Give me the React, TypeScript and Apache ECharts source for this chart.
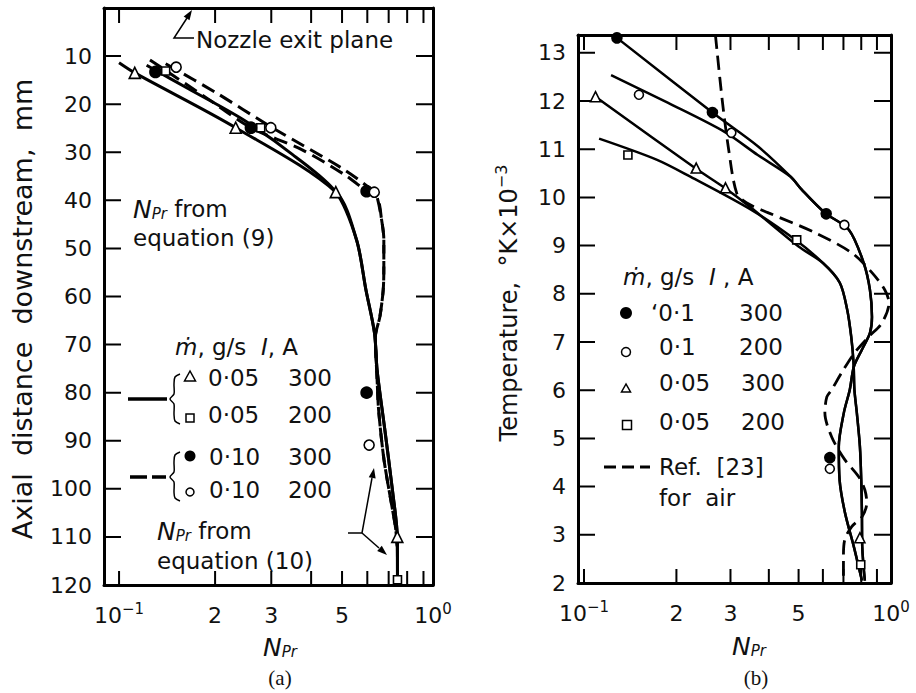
import React, { useEffect, useRef } from 'react';
import * as echarts from 'echarts';

// ---------- Panel (a): axial distance downstream (mm) vs N_Pr ----------
const aTriX = [0.112, 0.232, 0.478, 0.745];
const aTriY = [13.5, 24.9, 38.3, 110];
const aSqX = [0.14, 0.278, 0.746];
const aSqY = [13.1, 24.9, 118.9];
const aFillX = [0.13, 0.259, 0.597, 0.597];
const aFillY = [13.3, 24.9, 38.1, 80.0];
const aOpenX = [0.151, 0.299, 0.631, 0.608];
const aOpenY = [12.3, 24.9, 38.3, 90.9];

const aSolid300X = [0.1, 0.112, 0.232, 0.478, 0.555, 0.594, 0.632, 0.644, 0.679, 0.721, 0.745, 0.746];
const aSolid300Y = [11.4, 13.5, 24.9, 38.3, 48.2, 58.6, 67.6, 75.3, 87.1, 100.8, 110, 119.6];
const aSolid200X = [0.122, 0.165, 0.246, 0.35, 0.478, 0.555, 0.594, 0.632, 0.644, 0.679, 0.721, 0.745, 0.746];
const aSolid200Y = [11.9, 16.8, 23.3, 30.5, 38.3, 48.2, 58.6, 67.6, 75.3, 87.1, 100.8, 110, 119.6];
const aDash300X = [0.125, 0.19, 0.259, 0.375, 0.51, 0.597, 0.645, 0.665, 0.676, 0.676, 0.673, 0.657, 0.636, 0.644, 0.651, 0.677, 0.72, 0.735, 0.745];
const aDash300Y = [10.8, 18.9, 24.9, 29.5, 34.7, 38.1, 39.5, 44, 48.2, 54, 58.6, 64.2, 68.4, 77.3, 83.6, 94, 104.4, 107.9, 112];
const aDash200X = [0.14, 0.2, 0.299, 0.51, 0.631, 0.645, 0.665, 0.676, 0.676, 0.673, 0.657, 0.636, 0.644, 0.651, 0.677, 0.72, 0.735, 0.745];
const aDash200Y = [11.6, 17.5, 24.7, 33.7, 38.3, 39.5, 44, 48.2, 54, 58.6, 64.2, 68.4, 77.3, 83.6, 94, 104.4, 107.9, 112];

const aYTicks = [10, 20, 30, 40, 50, 60, 70, 80, 90, 100, 110, 120];

// ---------- Panel (b): temperature (K x 10^-3) vs N_Pr ----------
const bFillX = [0.128, 0.262, 0.615, 0.632];
const bFillY = [13.31, 11.76, 9.66, 4.6];
const bOpenX = [0.151, 0.302, 0.705, 0.632];
const bOpenY = [12.13, 11.34, 9.43, 4.37];
const bTriX = [0.109, 0.232, 0.289, 0.792];
const bTriY = [12.09, 10.61, 10.2, 2.94];
const bSqX = [0.139, 0.493, 0.797];
const bSqY = [10.88, 9.12, 2.38];

const bLine300X = [0.128, 0.262, 0.37, 0.471, 0.512, 0.609, 0.729, 0.815, 0.854, 0.867, 0.854, 0.804, 0.757, 0.734, 0.702, 0.676, 0.68, 0.708, 0.757, 0.804];
const bLine300Y = [13.31, 11.76, 11.05, 10.43, 10.16, 9.68, 9.33, 8.64, 8.08, 7.52, 7.19, 6.84, 6.49, 6.01, 5.53, 4.83, 4.14, 3.46, 2.75, 2.05];
const bLine200X = [0.1225, 0.188, 0.287, 0.368, 0.471, 0.512, 0.609, 0.729, 0.815, 0.854, 0.867, 0.854, 0.804, 0.757, 0.734, 0.702, 0.676, 0.68, 0.708, 0.757, 0.804];
const bLine200Y = [12.54, 11.96, 11.36, 10.88, 10.43, 10.16, 9.68, 9.33, 8.64, 8.08, 7.52, 7.19, 6.84, 6.49, 6.01, 5.53, 4.83, 4.14, 3.46, 2.75, 2.05];
const bLine05_300X = [0.109, 0.23, 0.287, 0.351, 0.5, 0.6, 0.681, 0.72, 0.742, 0.755, 0.76, 0.774, 0.792, 0.8, 0.804, 0.806, 0.822];
const bLine05_300Y = [12.09, 10.61, 10.2, 9.78, 8.98, 8.64, 8.23, 7.67, 7.11, 6.57, 6.01, 5.53, 4.83, 4.14, 3.46, 2.75, 2.05];
const bLine05_200X = [0.112, 0.173, 0.222, 0.351, 0.488, 0.6, 0.681, 0.72, 0.742, 0.755, 0.76, 0.774, 0.792, 0.8, 0.804, 0.806, 0.822];
const bLine05_200Y = [11.22, 10.78, 10.43, 9.74, 9.12, 8.64, 8.23, 7.67, 7.11, 6.57, 6.01, 5.53, 4.83, 4.14, 3.46, 2.75, 2.05];
const bRefAirX = [0.268, 0.282, 0.296, 0.314, 0.338, 0.399, 0.565, 0.745, 0.867, 0.955, 0.985, 0.935, 0.847, 0.762, 0.69, 0.641, 0.618, 0.609, 0.641, 0.707, 0.786, 0.822, 0.834, 0.804, 0.745, 0.707, 0.7, 0.7];
const bRefAirY = [13.37, 12.02, 10.99, 10.1, 9.89, 9.68, 9.27, 8.85, 8.44, 8.08, 7.81, 7.4, 7.11, 6.78, 6.36, 6.01, 5.86, 5.53, 5.03, 4.56, 4.2, 3.93, 3.66, 3.37, 3.17, 2.9, 2.54, 2.05];

const bYTicks = [2, 3, 4, 5, 6, 7, 8, 9, 10, 11, 12, 13];

// shared log-axis ticks
const xMinorTicks = [0.1, 0.2, 0.3, 0.4, 0.5, 0.6, 0.7, 0.8, 0.9, 1.0];
const xLabelTicks = [0.1, 0.2, 0.3, 0.5];

const FONT = 'DejaVu Sans';
const INK = '#111';
const L = (v: number) => Math.log10(v);
const pts = (xs: number[], ys: number[]) => xs.map((x, i) => [L(x), ys[i]]);

const A_XMIN = L(0.0897);
const A_XMAX = L(0.964);
const A_YMIN = 0, A_YMAX = 120;
const B_XMIN = L(0.0956);
const B_XMAX = 0;
const B_YMIN = 2, B_YMAX = 13.37;

// grid boxes in pixels
const GRID_A = { left: 104, right: 483, top: 8, bottom: 108 };
const GRID_B = { left: 578, right: 25, top: 35, bottom: 110 };
const W = 916, H = 693;

const supRich = {
  b: { fontSize: 22, fontFamily: FONT, color: INK, lineHeight: 28 },
  s: { fontSize: 15, fontFamily: FONT, color: INK, verticalAlign: 'top', lineHeight: 28, padding: [0, 0, 10, 0] },
};

function xAxes(gridIndex: number, min: number, max: number) {
  const labelVals = [...xLabelTicks.map(L), max];
  const line = { show: true, onZero: false, lineStyle: { color: '#000', width: 3 } };
  return [
    {
      type: 'value', gridIndex, min, max, position: 'bottom',
      axisLine: line, axisTick: { show: false }, splitLine: { show: false },
      axisLabel: {
        show: true, customValues: labelVals, margin: 16, color: INK, fontFamily: FONT, fontSize: 22,
        rich: supRich,
        formatter: (v: number) => {
          if (Math.abs(v + 1) < 1e-6) return '{b|10}{s|−1}';
          if (v > -0.05) return '{b|10}{s|0}';
          return '{b|' + Math.round(Math.pow(10, v) * 10) + '}';
        },
      },
    },
    {
      type: 'value', gridIndex, min, max, position: 'top',
      axisLine: line, axisTick: { show: false }, splitLine: { show: false }, axisLabel: { show: false },
    },
  ];
}

function yAxes(gridIndex: number, min: number, max: number, ticks: number[], inverse: boolean) {
  const line = { show: true, onZero: false, lineStyle: { color: '#000', width: 3 } };
  return [
    {
      type: 'value', gridIndex, min, max, inverse, position: 'left',
      axisLine: line, axisTick: { show: false }, splitLine: { show: false },
      axisLabel: { show: true, customValues: ticks, margin: 12, color: INK, fontFamily: FONT, fontSize: 22 },
    },
    {
      type: 'value', gridIndex, min, max, inverse, position: 'right',
      axisLine: line, axisTick: { show: false }, splitLine: { show: false }, axisLabel: { show: false },
    },
  ];
}

// inward tick marks on all four sides, drawn as line segments through the axes' scales
function tickSeries(xi: number, grid: any, xmin: number, xmax: number, ymin: number, ymax: number, yTicks: number[], yInverse: boolean) {
  const pw = W - grid.left - grid.right;
  const ph = H - grid.top - grid.bottom;
  const dxPer = (xmax - xmin) / pw;
  const dyPer = (ymax - ymin) / ph;
  const yBot = yInverse ? ymax : ymin;
  const yTop = yInverse ? ymin : ymax;
  const sgn = yInverse ? -1 : 1; // moving up on screen
  const data: any[] = [];
  xMinorTicks.map(L).filter((v) => v >= xmin - 1e-9 && v <= xmax + 1e-9).forEach((v) => {
    data.push([v, yBot], [v, yBot + sgn * 14 * dyPer], '-');
    data.push([v, yTop], [v, yTop - sgn * 15 * dyPer], '-');
  });
  yTicks.forEach((t) => {
    data.push([xmin, t], [xmin + 17 * dxPer, t], '-');
    data.push([xmax, t], [xmax - 17 * dxPer, t], '-');
  });
  return {
    type: 'line', xAxisIndex: xi, yAxisIndex: xi, data, smooth: false, symbol: 'none', showSymbol: false,
    connectNulls: false, clip: false, silent: true, z: 3,
    lineStyle: { color: '#000', width: 2, type: 'solid', cap: 'butt' },
  };
}

function lineSeries(name: string, xi: number, data: number[][], dashed: boolean, width: number) {
  return {
    name, type: 'line', xAxisIndex: xi, yAxisIndex: xi, data, smooth: 0.3, symbol: 'none', showSymbol: false,
    lineStyle: { color: '#000', width, type: dashed ? [14, 7] : 'solid', cap: 'butt', opacity: 1 },
    z: 2, silent: true,
  };
}

function scatterSeries(name: string, xi: number, data: number[][], symbol: string, size: number, filled: boolean) {
  return {
    name, type: 'scatter', xAxisIndex: xi, yAxisIndex: xi, data, symbol, symbolSize: size,
    itemStyle: { color: filled ? '#000' : '#fff', borderColor: '#000', borderWidth: 1.6, opacity: 1 },
    z: 5, silent: true,
  };
}

const txt = (x: number, y: number, text: string, extra: any = {}) => ({
  type: 'text', x, y, silent: true,
  style: { text, fontFamily: FONT, fontSize: 23, fill: INK, align: 'left', verticalAlign: 'middle', ...extra },
});

const nprRich = {
  n: { fontSize: 25, fontStyle: 'italic', fontFamily: FONT, color: INK, lineHeight: 24 },
  s: { fontSize: 15, fontStyle: 'italic', fontFamily: FONT, color: INK, lineHeight: 24, verticalAlign: 'bottom', padding: [8, 0, 0, 0] },
  t: { fontSize: 23, fontFamily: FONT, color: INK, lineHeight: 24 },
};
const mdotRich = {
  i: { fontSize: 23, fontStyle: 'italic', fontFamily: FONT, color: INK },
  t: { fontSize: 23, fontFamily: FONT, color: INK },
};

function arrowHead(tx: number, ty: number, fx: number, fy: number) {
  const dx = tx - fx, dy = ty - fy;
  const len = Math.sqrt(dx * dx + dy * dy);
  const ux = dx / len, uy = dy / len;
  const bx = tx - 10 * ux, by = ty - 10 * uy;
  const px = -uy * 3.5, py = ux * 3.5;
  return {
    type: 'polygon', silent: true,
    shape: { points: [[tx, ty], [bx + px, by + py], [bx - px, by - py]] },
    style: { fill: '#000' },
  };
}

const stroke = { stroke: '#000', lineWidth: 1.5, fill: 'none' };

const graphics: any[] = [
  // ---- panel (a) annotations ----
  txt(196, 40, 'Nozzle exit plane'),
  { type: 'polyline', silent: true, shape: { points: [[194, 38], [174, 38], [187, 18]] }, style: stroke },
  arrowHead(192, 10, 174, 38),
  txt(133, 209, '{n|N}{s|Pr}{t| from}', { rich: nprRich }),
  txt(133, 238, 'equation (9)'),
  txt(175, 347, '{i|ṁ}{t|, g/s  }{i|I}{t|, A}', { rich: mdotRich }),
  { type: 'polygon', silent: true, shape: { points: [[190, 371], [184.5, 381], [195.5, 381]] }, style: { fill: '#fff', stroke: '#000', lineWidth: 1.5 } },
  txt(208, 378, '0·05'), txt(288, 378, '300'),
  { type: 'rect', silent: true, shape: { x: 186, y: 414, width: 8, height: 8 }, style: { fill: '#fff', stroke: '#000', lineWidth: 1.5 } },
  txt(208, 415, '0·05'), txt(288, 415, '200'),
  { type: 'circle', silent: true, shape: { cx: 190, cy: 456, r: 5.5 }, style: { fill: '#000' } },
  txt(209, 457, '0·10'), txt(288, 457, '300'),
  { type: 'circle', silent: true, shape: { cx: 190, cy: 492, r: 4 }, style: { fill: '#fff', stroke: '#000', lineWidth: 1.5 } },
  txt(209, 490, '0·10'), txt(288, 490, '200'),
  { type: 'polyline', silent: true, shape: { smooth: 0.3, points: [[180, 374], [175, 377], [174, 384], [174, 394], [170, 399], [174, 404], [174, 414], [175, 421], [180, 424]] }, style: stroke },
  { type: 'polyline', silent: true, shape: { smooth: 0.3, points: [[180, 452], [175, 455], [174, 462], [174, 472], [170, 477], [174, 482], [174, 492], [175, 498], [180, 501]] }, style: stroke },
  { type: 'line', silent: true, shape: { x1: 128, y1: 399, x2: 167, y2: 399 }, style: { stroke: '#000', lineWidth: 3.5 } },
  { type: 'line', silent: true, shape: { x1: 130, y1: 477, x2: 166, y2: 477 }, style: { stroke: '#000', lineWidth: 3.5, lineDash: [17, 5] } },
  txt(157, 531, '{n|N}{s|Pr}{t| from}', { rich: nprRich }),
  txt(157, 561, 'equation (10)'),
  { type: 'polyline', silent: true, shape: { points: [[348, 533], [362, 533], [372, 478]] }, style: stroke },
  arrowHead(374, 468, 362, 533),
  { type: 'line', silent: true, shape: { x1: 362, y1: 533, x2: 379, y2: 548 }, style: stroke },
  arrowHead(387, 555, 362, 533),
  txt(280, 647, '{n|N}{s|Pr}', { rich: nprRich, align: 'center' }),
  txt(280, 678, '(a)', { fontFamily: 'Liberation Serif', fontSize: 21, align: 'center' }),
  txt(22, 309, 'Axial  distance  downstream,  mm', { fontSize: 27, align: 'center' }),
  // ---- panel (b) annotations ----
  txt(623, 277, '{i|ṁ}{t|, g/s  }{i|I}{t| , A}', { rich: mdotRich }),
  { type: 'circle', silent: true, shape: { cx: 626, cy: 313, r: 6 }, style: { fill: '#000' } },
  txt(651, 313, '‘0·1'), txt(739, 313, '300'),
  { type: 'circle', silent: true, shape: { cx: 626, cy: 352, r: 4.5 }, style: { fill: '#fff', stroke: '#000', lineWidth: 1.5 } },
  txt(659, 347, '0·1'), txt(739, 347, '200'),
  { type: 'polygon', silent: true, shape: { points: [[626, 384], [621.5, 392], [630.5, 392]] }, style: { fill: '#fff', stroke: '#000', lineWidth: 1.5 } },
  txt(659, 383, '0·05'), txt(741, 383, '300'),
  { type: 'rect', silent: true, shape: { x: 622.5, y: 420.5, width: 9, height: 9 }, style: { fill: '#fff', stroke: '#000', lineWidth: 1.5 } },
  txt(659, 422, '0·05'), txt(741, 422, '200'),
  { type: 'line', silent: true, shape: { x1: 604, y1: 467, x2: 650, y2: 467 }, style: { stroke: '#000', lineWidth: 3, lineDash: [12, 6] } },
  txt(659, 467, 'Ref.  [23]'),
  txt(659, 498, 'for  air'),
  txt(749, 646, '{n|N}{s|Pr}', { rich: nprRich, align: 'center' }),
  txt(756, 678, '(b)', { fontFamily: 'Liberation Serif', fontSize: 21, align: 'center' }),
  txt(509, 303, '{t|Temperature,  °K×10}{s|−3}', {
    align: 'center',
    rich: {
      t: { fontSize: 24, fontFamily: FONT, color: INK, lineHeight: 32 },
      s: { fontSize: 16, fontFamily: FONT, color: INK, lineHeight: 32, verticalAlign: 'top', padding: [0, 0, 12, 0] },
    },
  }),
];
// rotate y-axis titles
graphics.forEach((g) => {
  if (g.type === 'text' && (g.style.text.startsWith('Axial') || g.style.text.startsWith('{t|Temperature'))) {
    g.rotation = Math.PI / 2;
  }
});

export default function App() {
  const ref = useRef<HTMLDivElement>(null);
  useEffect(() => {
    if (!ref.current) return;
    const chart = echarts.init(ref.current, undefined, { renderer: 'svg' });
    chart.setOption({
      animation: false,
      backgroundColor: '#fff',
      grid: [GRID_A, GRID_B],
      xAxis: [...xAxes(0, A_XMIN, A_XMAX), ...xAxes(1, B_XMIN, B_XMAX)],
      yAxis: [...yAxes(0, A_YMIN, A_YMAX, aYTicks, true), ...yAxes(1, B_YMIN, B_YMAX, bYTicks, false)],
      series: [
        tickSeries(0, GRID_A, A_XMIN, A_XMAX, A_YMIN, A_YMAX, aYTicks, true),
        tickSeries(2, GRID_B, B_XMIN, B_XMAX, B_YMIN, B_YMAX, bYTicks, false),
        lineSeries('a 0.05 g/s 300 A', 0, pts(aSolid300X, aSolid300Y), false, 3),
        lineSeries('a 0.05 g/s 200 A', 0, pts(aSolid200X, aSolid200Y), false, 3),
        lineSeries('a 0.10 g/s 300 A', 0, pts(aDash300X, aDash300Y), true, 3),
        lineSeries('a 0.10 g/s 200 A', 0, pts(aDash200X, aDash200Y), true, 3),
        scatterSeries('a tri', 0, pts(aTriX, aTriY), 'triangle', 11, false),
        scatterSeries('a sq', 0, pts(aSqX, aSqY), 'rect', 8, false),
        scatterSeries('a fill', 0, pts(aFillX, aFillY), 'circle', 11, true),
        scatterSeries('a open', 0, pts(aOpenX, aOpenY), 'circle', 10, false),
        lineSeries('b 0.1 g/s 300 A', 2, pts(bLine300X, bLine300Y), false, 2.5),
        lineSeries('b 0.1 g/s 200 A', 2, pts(bLine200X, bLine200Y), false, 2.5),
        lineSeries('b 0.05 g/s 300 A', 2, pts(bLine05_300X, bLine05_300Y), false, 2.5),
        lineSeries('b 0.05 g/s 200 A', 2, pts(bLine05_200X, bLine05_200Y), false, 2.5),
        lineSeries('b Ref [23] air', 2, pts(bRefAirX, bRefAirY), true, 2.8),
        scatterSeries('b tri', 2, pts(bTriX, bTriY), 'triangle', 10, false),
        scatterSeries('b sq', 2, pts(bSqX, bSqY), 'rect', 8, false),
        scatterSeries('b fill', 2, pts(bFillX, bFillY), 'circle', 10, true),
        scatterSeries('b open', 2, pts(bOpenX, bOpenY), 'circle', 9, false),
      ],
      graphic: graphics,
    });
    return () => chart.dispose();
  }, []);
  return (
    <div
      ref={ref}
      style={{ position: 'fixed', left: 0, top: 0, width: W, height: H, background: '#fff' }}
    />
  );
}
